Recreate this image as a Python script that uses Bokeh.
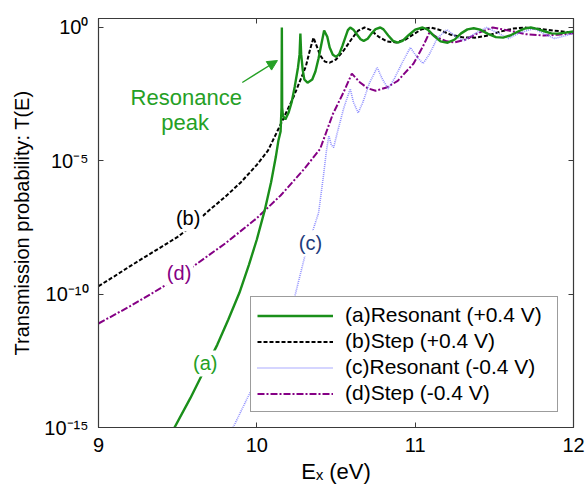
from bokeh.plotting import figure
from bokeh.models import (Range1d, FixedTicker, LinearAxis, LogAxis, Label, Arrow, Title,
                          NormalHead, CustomJSTickFormatter)
from bokeh.embed import file_html
from bokeh.resources import INLINE

# ---------------- data ----------------
x_ticks = [9, 10, 11, 12]
y_tick_exponents = [-15, -10, -5, 0]

series_names = ["(a)Resonant (+0.4 V)", "(b)Step (+0.4 V)",
                "(c)Resonant (-0.4 V)", "(d)Step (-0.4 V)"]

# (a) Resonant +0.4 V : energy (eV) and log10 T(E)
a_E = [9.48, 9.58, 9.66, 9.75, 9.82, 9.89, 9.95, 10.00, 10.05, 10.09,
       10.12, 10.136, 10.150, 10.156, 10.158, 10.160,
       10.165, 10.18, 10.20, 10.22, 10.24, 10.26, 10.27, 10.275, 10.28, 10.29,
       10.30, 10.32, 10.35, 10.37, 10.39, 10.41, 10.425, 10.445, 10.46, 10.48,
       10.50, 10.52, 10.54, 10.56, 10.575, 10.59, 10.61, 10.635, 10.655, 10.675,
       10.70, 10.725, 10.75, 10.78, 10.80, 10.83, 10.86, 10.89, 10.92, 10.96,
       11.00, 11.047, 11.08, 11.12, 11.16, 11.205, 11.25, 11.29, 11.33, 11.37,
       11.41, 11.46, 11.51, 11.555, 11.60, 11.65, 11.69, 11.73, 11.77, 11.82,
       11.86, 11.90, 11.95, 12.00]
a_log10T = [-15.0, -13.9, -12.95, -11.9, -10.95, -9.95, -8.9, -7.95, -6.85, -5.8,
            -4.85, -4.25, -3.9, -3.0, 0.0, -3.0,
            -3.3, -3.45, -3.2, -2.8, -2.2, -1.5, -1.0, -0.23, -1.0, -1.6,
            -1.95, -2.07, -1.95, -1.65, -1.15, -0.55, -0.11, -0.35, -0.75, -1.02,
            -1.10, -1.00, -0.70, -0.35, -0.10, 0.0, -0.08, -0.28, -0.44, -0.50,
            -0.42, -0.22, -0.06, 0.0, -0.07, -0.30, -0.50, -0.57, -0.50, -0.28,
            -0.08, 0.0, -0.08, -0.32, -0.52, -0.57, -0.45, -0.22, -0.07, -0.03,
            -0.08, -0.24, -0.36, -0.38, -0.30, -0.15, -0.04, 0.0, -0.05, -0.15,
            -0.22, -0.23, -0.19, -0.15]

# (b) Step +0.4 V
b_E = [9.00, 9.10, 9.20, 9.30, 9.40, 9.50, 9.60, 9.69, 9.80, 9.90,
       10.00, 10.07, 10.14, 10.23, 10.28, 10.31,
       10.335, 10.358, 10.375, 10.40, 10.43, 10.46, 10.50, 10.55, 10.60, 10.64,
       10.68, 10.72, 10.77, 10.82, 10.88, 10.94, 10.99, 11.04, 11.10, 11.16,
       11.22, 11.30, 11.38, 11.46, 11.54, 11.62, 11.69, 11.78, 11.88, 12.00]
b_log10T = [-9.70, -9.33, -8.95, -8.58, -8.22, -7.85, -7.40, -6.90, -6.35, -5.80,
            -5.15, -4.62, -3.76, -2.63, -1.90, -1.45,
            -0.85, -0.38, -0.65, -1.05, -1.28, -1.32, -1.20, -0.85, -0.42, -0.12,
            0.0, -0.10, -0.35, -0.52, -0.56, -0.45, -0.25, -0.07, 0.0, -0.10,
            -0.26, -0.37, -0.38, -0.30, -0.15, -0.04, 0.0, -0.05, -0.12, -0.19]

# (c) Resonant -0.4 V
c_E = [9.85, 9.94, 10.05, 10.15, 10.24, 10.30, 10.36, 10.39, 10.42, 10.44,
       10.455, 10.47, 10.485, 10.51, 10.55, 10.59, 10.61, 10.64, 10.67, 10.71,
       10.76, 10.79, 10.83, 10.87, 10.92, 10.97, 11.01, 11.05, 11.09, 11.14,
       11.20, 11.26, 11.31, 11.37, 11.45, 11.52, 11.59, 11.66, 11.75, 11.82,
       11.88, 11.94, 12.00]
c_log10T = [-15.0, -13.9, -12.6, -11.4, -10.08, -8.65, -7.5, -6.95, -5.6, -4.6,
            -4.06, -4.4, -4.5, -3.9, -3.0, -2.3, -2.8, -3.2, -2.8, -2.1,
            -1.5, -1.9, -2.3, -1.9, -1.3, -0.75, -1.1, -1.35, -1.0, -0.4,
            -0.08, -0.35, -0.49, -0.25, 0.0, -0.2, -0.41, -0.2, -0.04, -0.25,
            -0.41, -0.32, -0.22]

# (d) Step -0.4 V
d_E = [9.00, 9.20, 9.40, 9.60, 9.80, 10.00, 10.15, 10.30, 10.40, 10.48, 10.55,
       10.60, 10.65, 10.70, 10.75, 10.82, 10.89, 10.99, 11.05, 11.09, 11.14,
       11.20, 11.25, 11.32, 11.40, 11.49, 11.58, 11.70, 11.81, 11.90, 12.00]
d_log10T = [-11.10, -10.45, -9.75, -8.95, -8.10, -7.15, -6.30, -5.30, -4.55, -3.25, -2.40,
            -1.73, -2.05, -2.28, -2.37, -2.25, -2.00, -1.35, -0.70, -0.19, -0.38,
            -0.52, -0.56, -0.45, -0.20, 0.0, -0.10, -0.25, -0.30, -0.27, -0.22]

# ---------------- styling ----------------
FONT = "Liberation Sans"
GREEN = "#1a8f1a"
GREEN_TXT = "#25a025"
PURPLE = "#850085"
BLUE = "#7d7dff"
BLUE_TXT = "#1f3c7c"
FRAME = "#3a3a3a"

p = figure(frame_width=475, frame_height=409, x_range=Range1d(9, 12),
           y_range=Range1d(1e-15, 2.175),
           y_axis_type="log", output_backend="svg", toolbar_location=None,
           min_border_left=98, min_border_right=12, min_border_top=18, min_border_bottom=62)
p.xgrid.visible = False
p.ygrid.visible = False
p.outline_line_color = FRAME
p.outline_line_width = 1.2
p.background_fill_color = "white"
p.border_fill_color = "white"

def T(vals):
    return [10.0 ** v for v in vals]

p.line(b_E, T(b_log10T), line_color="black", line_width=2, line_dash="4 2",
       legend_label=series_names[1])
p.line(d_E, T(d_log10T), line_color=PURPLE, line_width=2, line_dash="7 2 2 2",
       legend_label=series_names[3])
p.line(c_E, T(c_log10T), line_color=BLUE, line_width=1.6, line_dash="1 1", line_alpha=0.85,
       legend_label=series_names[2])
p.line(a_E, T(a_log10T), line_color=GREEN, line_width=2.4, legend_label=series_names[0])

items = p.legend.items
order = {n: i for i, n in enumerate(series_names)}
items.sort(key=lambda it: order[it.label.value])
p.legend.items = items

lg = p.legend[0]
lg.location = "bottom_right"
lg.margin = 15
lg.padding = 6
lg.spacing = 2
lg.glyph_width = 76
lg.glyph_height = 23
lg.label_height = 23
lg.label_width = 206
lg.label_standoff = 12
lg.label_text_font = FONT
lg.label_text_font_size = "21px"
lg.label_text_color = "black"
lg.border_line_color = FRAME
lg.border_line_width = 1.3
lg.background_fill_alpha = 1.0

blank = CustomJSTickFormatter(code="return ''")
pow10 = CustomJSTickFormatter(code="""
const sup = {"0":"\u2070","1":"\u00b9","2":"\u00b2","3":"\u00b3","4":"\u2074","5":"\u2075",
             "6":"\u2076","7":"\u2077","8":"\u2078","9":"\u2079","-":"\u207b"};
const e = Math.round(Math.log10(tick));
return "10" + String(e).split("").map(c => sup[c]).join("");
""")

# x axes (bottom with labels, top mirror)
p.xaxis.ticker = FixedTicker(ticks=x_ticks, minor_ticks=[])
p.xaxis.major_tick_in = 5
p.xaxis.major_tick_out = 0
p.xaxis.minor_tick_in = 0
p.xaxis.minor_tick_out = 0
p.xaxis.axis_line_color = FRAME
p.xaxis.major_tick_line_color = FRAME
p.xaxis.major_label_text_font = FONT
p.xaxis.major_label_text_font_size = "20px"
p.xaxis.major_label_text_color = "black"
p.xaxis.major_label_standoff = 10
p.xaxis.axis_label = "E\u2093 (eV)"
p.xaxis.axis_label_text_font = FONT
p.xaxis.axis_label_text_font_size = "22px"
p.xaxis.axis_label_text_font_style = "normal"
p.xaxis.axis_label_text_color = "black"
p.xaxis.axis_label_standoff = 4

top = LinearAxis(ticker=FixedTicker(ticks=x_ticks, minor_ticks=[]), formatter=blank,
                 major_tick_in=5, major_tick_out=0, minor_tick_in=0, minor_tick_out=0,
                 axis_line_color=FRAME, major_tick_line_color=FRAME,
                 major_label_text_font_size="0px", major_label_standoff=0)
p.add_layout(top, "above")

yt_vals = [10.0 ** e for e in y_tick_exponents]
p.yaxis.ticker = FixedTicker(ticks=yt_vals, minor_ticks=[])
p.yaxis.formatter = pow10
p.yaxis.major_label_text_font = FONT
p.yaxis.major_label_text_font_size = "20px"
p.yaxis.major_label_text_color = "black"
p.yaxis.major_label_standoff = 10
p.yaxis.major_tick_in = 5
p.yaxis.major_tick_out = 0
p.yaxis.minor_tick_in = 0
p.yaxis.minor_tick_out = 0
p.yaxis.axis_line_color = FRAME
p.yaxis.major_tick_line_color = FRAME

right = LogAxis(ticker=FixedTicker(ticks=yt_vals, minor_ticks=[]), formatter=blank,
                major_tick_in=5, major_tick_out=0, minor_tick_in=0, minor_tick_out=0,
                axis_line_color=FRAME, major_tick_line_color=FRAME,
                major_label_text_font_size="0px", major_label_standoff=0)
p.add_layout(right, "right")

# y axis title (placed above frame centre, as in the reference)
p.add_layout(Title(text="Transmission probability: T(E)", align="center", offset=52,
                   standoff=17,
                   text_font=FONT, text_font_size="20px", text_font_style="normal",
                   text_color="black"), "left")

# curve tags
def tag(x, lg10, txt, color):
    p.add_layout(Label(x=x, y=10 ** lg10, text=txt, text_align="center", text_baseline="middle",
                       text_font=FONT, text_font_size="20px", text_color=color,
                       background_fill_color="white", background_fill_alpha=1.0,
                       padding=2))

tag(9.566, -7.16, "(b)", "black")
tag(9.509, -9.19, "(d)", PURPLE)
tag(9.674, -12.6, "(a)", GREEN_TXT)
tag(10.339, -8.1, "(c)", BLUE_TXT)

# resonance annotation
p.add_layout(Label(x=9.554, y=10 ** -2.625, text="Resonance", text_align="center",
                   text_baseline="middle", text_font=FONT, text_font_size="22px",
                   text_color=GREEN_TXT))
p.add_layout(Label(x=9.547, y=10 ** -3.56, text="peak", text_align="center",
                   text_baseline="middle", text_font=FONT, text_font_size="22px",
                   text_color=GREEN_TXT))
p.add_layout(Arrow(end=NormalHead(size=10, fill_color=GREEN_TXT, line_color=GREEN_TXT),
                   x_start=9.908, y_start=10 ** -2.06, x_end=10.130, y_end=10 ** -1.24,
                   line_color=GREEN_TXT, line_width=1.3))

open("out.html", "w").write(file_html(p, INLINE))
